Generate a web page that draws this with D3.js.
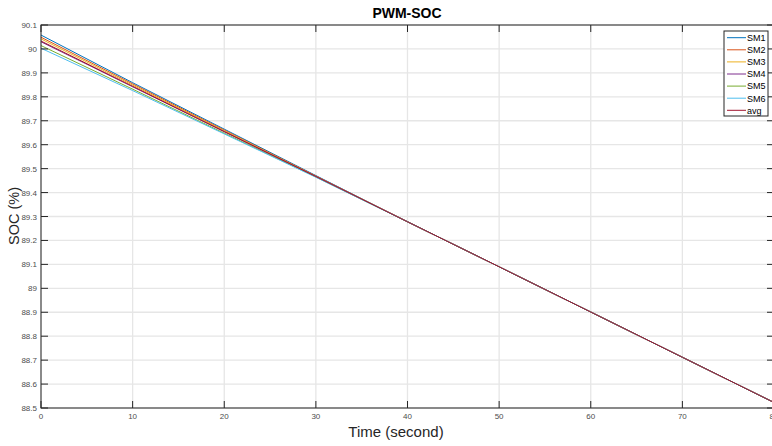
<!DOCTYPE html>
<html>
<head>
<meta charset="utf-8">
<script src="https://cdn.jsdelivr.net/npm/d3@7"></script>
<style>
  body { margin: 0; background: #fff; }
  svg { display: block; font-family: "Liberation Sans", Arial, sans-serif; }
</style>
</head>
<body>
<svg id="chart"></svg>
<script>
// sample times (s)
const times = [0, 10, 20, 30, 40, 50, 60, 70, 80]
const seriesNames = ["SM1", "SM2", "SM3", "SM4", "SM5", "SM6", "avg"]
const sm1 = [90.058, 89.859, 89.665, 89.471, 89.278, 89.090, 88.901, 88.712, 88.523]
const sm2 = [90.049, 89.854, 89.661, 89.469, 89.278, 89.090, 88.901, 88.712, 88.523]
const sm3 = [90.042, 89.849, 89.658, 89.468, 89.278, 89.090, 88.901, 88.712, 88.523]
const sm4 = [90.030, 89.842, 89.654, 89.467, 89.278, 89.090, 88.901, 88.712, 88.523]
const sm5 = [90.014, 89.832, 89.648, 89.465, 89.278, 89.090, 88.901, 88.712, 88.523]
const sm6 = [90.003, 89.826, 89.645, 89.464, 89.278, 89.090, 88.901, 88.712, 88.523]
const avg = [90.033, 89.844, 89.655, 89.467, 89.278, 89.090, 88.901, 88.712, 88.523]
const colors = ["#0072BD", "#D95319", "#EDB120", "#7E2F8E", "#77AC30", "#4DBEEE", "#A2142F"]

const xTicks = [0, 10, 20, 30, 40, 50, 60, 70, 80]
const yTicks = [88.5, 88.6, 88.7, 88.8, 88.9, 89, 89.1, 89.2, 89.3, 89.4, 89.5, 89.6, 89.7, 89.8, 89.9, 90, 90.1]
const yTickLabels = ["88.5", "88.6", "88.7", "88.8", "88.9", "89", "89.1", "89.2", "89.3", "89.4", "89.5", "89.6", "89.7", "89.8", "89.9", "90", "90.1"]

const width = 772, height = 446
const mLeft = 41, mRight = 774, mTop = 25, mBottom = 408

const svg = d3.select("#chart").attr("width", width).attr("height", height)

const x = d3.scaleLinear().domain([0, 80]).range([mLeft, mRight])
const y = d3.scaleLinear().domain([88.5, 90.1]).range([mBottom, mTop])

// grid
svg.append("g").selectAll("line").data(xTicks).join("line")
  .attr("x1", d => x(d)).attr("x2", d => x(d))
  .attr("y1", mTop).attr("y2", mBottom)
  .attr("stroke", "#e6e6e6").attr("stroke-width", 1.3)
svg.append("g").selectAll("line").data(yTicks).join("line")
  .attr("x1", mLeft).attr("x2", mRight)
  .attr("y1", d => y(d)).attr("y2", d => y(d))
  .attr("stroke", "#e6e6e6").attr("stroke-width", 1.3)

// lines
const allSeries = [sm1, sm2, sm3, sm4, sm5, sm6, avg]
const line = d3.line().x((d, i) => x(times[i])).y(d => y(d))
svg.append("g").selectAll("path").data(allSeries).join("path")
  .attr("d", d => line(d))
  .attr("fill", "none")
  .attr("stroke", (d, i) => colors[i])
  .attr("stroke-width", 1)

// axes box with inward ticks
const ax = svg.append("g").attr("stroke", "#262626").attr("stroke-width", 1)
ax.append("rect").attr("x", mLeft).attr("y", mTop)
  .attr("width", mRight - mLeft).attr("height", mBottom - mTop).attr("fill", "none")
ax.selectAll(".xb").data(xTicks).join("line")
  .attr("x1", d => x(d)).attr("x2", d => x(d)).attr("y1", mBottom).attr("y2", mBottom - 7)
ax.selectAll(".xt").data(xTicks).join("line")
  .attr("x1", d => x(d)).attr("x2", d => x(d)).attr("y1", mTop).attr("y2", mTop + 7)
ax.selectAll(".yl").data(yTicks).join("line")
  .attr("x1", mLeft).attr("x2", mLeft + 7).attr("y1", d => y(d)).attr("y2", d => y(d))
ax.selectAll(".yr").data(yTicks).join("line")
  .attr("x1", mRight).attr("x2", mRight - 7).attr("y1", d => y(d)).attr("y2", d => y(d))

// tick labels
svg.append("g").selectAll("text").data(xTicks).join("text")
  .attr("x", d => x(d)).attr("y", 419)
  .attr("text-anchor", "middle").attr("font-size", 8).attr("fill", "#4d4d4d")
  .text(d => d)
svg.append("g").selectAll("text").data(yTicks).join("text")
  .attr("x", 37).attr("y", d => y(d) + 3)
  .attr("text-anchor", "end").attr("font-size", 8).attr("fill", "#4d4d4d")
  .text((d, i) => yTickLabels[i])

// title and labels
svg.append("text").attr("x", 407).attr("y", 18).attr("text-anchor", "middle")
  .attr("font-size", 14).attr("font-weight", "bold").attr("fill", "#000").text("PWM-SOC")
svg.append("text").attr("x", 396).attr("y", 437).attr("text-anchor", "middle")
  .attr("font-size", 15).attr("fill", "#262626").text("Time (second)")
svg.append("text").attr("transform", "translate(19,216) rotate(-90)").attr("text-anchor", "middle")
  .attr("font-size", 14.5).attr("fill", "#262626").text("SOC (%)")

// legend
const lg = svg.append("g")
lg.append("rect").attr("x", 724).attr("y", 31).attr("width", 44).attr("height", 85)
  .attr("fill", "#fff").attr("stroke", "#262626").attr("stroke-width", 1)
const rows = lg.selectAll("g").data(seriesNames).join("g")
  .attr("transform", (d, i) => `translate(0,${37.7 + i * 12.1})`)
rows.append("line").attr("x1", 727).attr("x2", 746).attr("y1", 0).attr("y2", 0)
  .attr("stroke", (d, i) => colors[i]).attr("stroke-width", 1)
rows.append("text").attr("x", 747).attr("y", 3.3).attr("font-size", 9)
  .attr("fill", "#000").text(d => d)
</script>
</body>
</html>
